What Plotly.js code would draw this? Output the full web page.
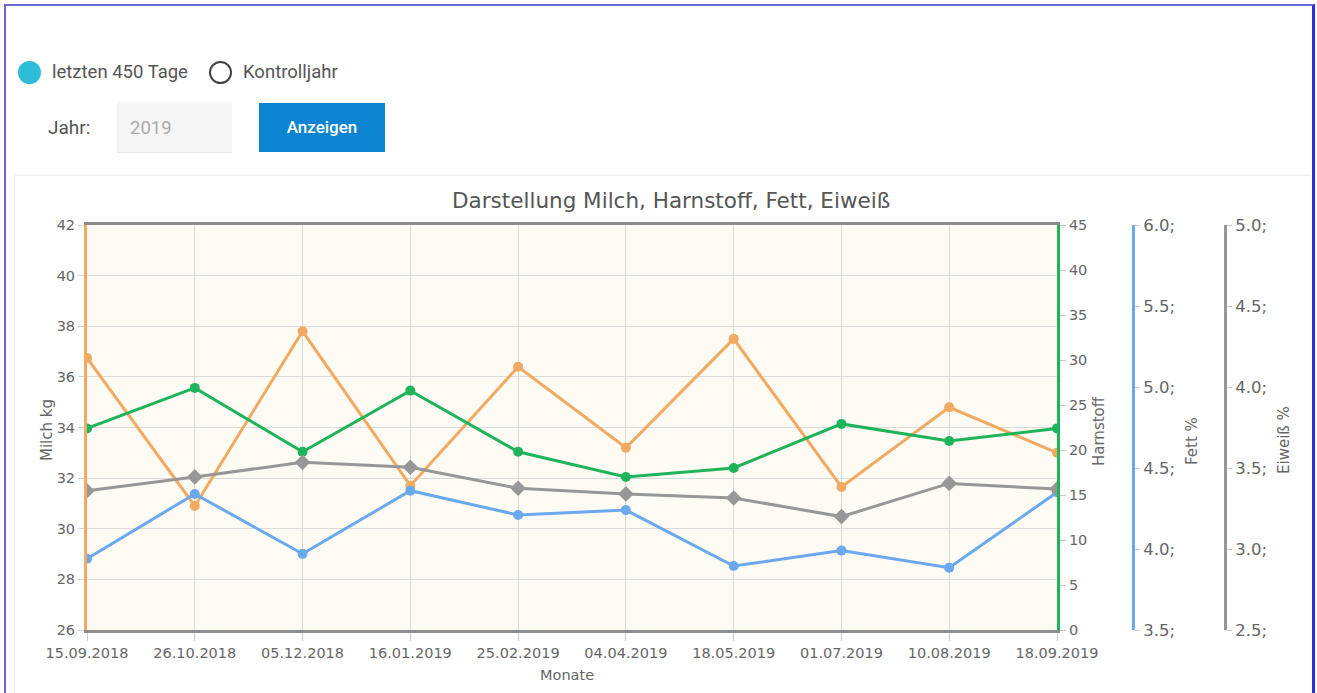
<!DOCTYPE html>
<html>
<head>
<meta charset="utf-8">
<script src="https://cdn.plot.ly/plotly-3.0.1.min.js"></script>
<style>
  html, body { margin:0; padding:0; background:#fff; width:1317px; height:693px; overflow:hidden; font-family: Roboto, "DejaVu Sans", sans-serif; }
  #frame { position:absolute; left:4px; top:4px; width:1306px; height:700px; border-left:2px solid #6a6ad2; border-top:2px solid #6a6ad2; border-right:3px solid #2a2ae0; }
  #panel { position:absolute; left:14px; top:175px; width:1296px; height:540px; border-top:1px solid #ececec; border-left:1px solid #f2f2f2; }
  .radio { position:absolute; width:23px; height:23px; border-radius:50%; box-sizing:border-box; }
  .lbl { position:absolute; font-size:18.5px; color:#555; line-height:22px; white-space:nowrap; }
  #inp { position:absolute; left:117px; top:102px; width:115px; height:51px; background:#f5f5f5; border-bottom:1px solid #e6e6e6; box-sizing:border-box; }
  #btn { position:absolute; left:259px; top:103px; width:126px; height:49px; background:#0d84d1; color:#fff; font-size:17px; font-weight:500; text-align:center; line-height:49px; }
  #chart { position:absolute; left:0; top:0; width:1317px; height:693px; }
</style>
</head>
<body>
<div id="frame"></div>
<div id="panel"></div>
<div class="radio" style="left:18px;top:61px;background:#2dbdd6;"></div>
<div class="lbl" style="left:52px;top:61px;">letzten 450 Tage</div>
<div class="radio" style="left:209px;top:61px;border:2px solid #444;"></div>
<div class="lbl" style="left:243px;top:61px;">Kontrolljahr</div>
<div class="lbl" style="left:48px;top:117px;font-size:19px;">Jahr:</div>
<div id="inp"></div>
<div class="lbl" style="left:130px;top:117px;color:#aaa;">2019</div>
<div id="btn">Anzeigen</div>
<div id="chart"></div>
<script>
// ---- data ----
const dates = ["15.09.2018","26.10.2018","05.12.2018","16.01.2019","25.02.2019","04.04.2019","18.05.2019","01.07.2019","10.08.2019","18.09.2019"];
const milch = [36.75, 30.9, 37.8, 31.7, 36.4, 33.2, 37.5, 31.65, 34.8, 33.0];
const harnstoff = [22.4, 26.9, 19.8, 26.6, 19.8, 17.0, 18.0, 22.9, 21.0, 22.4];
const fett = [3.94, 4.34, 3.97, 4.36, 4.21, 4.24, 3.895, 3.99, 3.885, 4.35];
const eiweiss = [3.36, 3.445, 3.535, 3.505, 3.375, 3.34, 3.315, 3.20, 3.405, 3.37];
const fettTicks = [3.5, 4.0, 4.5, 5.0, 5.5, 6.0];
const fettTickText = ["3.5;", "4.0;", "4.5;", "5.0;", "5.5;", "6.0;"];
const eiweissTicks = [2.5, 3.0, 3.5, 4.0, 4.5, 5.0];
const eiweissTickText = ["2.5;", "3.0;", "3.5;", "4.0;", "4.5;", "5.0;"];
const titleText = "Darstellung Milch, Harnstoff, Fett, Eiweiß";

// ---- styles ----
const cOrange = "#f2a961", cGreen = "#1fb45c", cBlue = "#6aa9ee", cGray = "#979797";
const FF = "DejaVu Sans, sans-serif";
const tickFont = {family: FF, size: 14.5, color: "#666"};
const sideTickFont = {family: FF, size: 16.5, color: "#666"};

const traces = [
  {x: dates, y: milch, yaxis: "y", name: "Milch", mode: "lines+markers",
   line: {color: cOrange, width: 3}, marker: {color: cOrange, size: 10, symbol: "circle"}},
  {x: dates, y: harnstoff, yaxis: "y2", name: "Harnstoff", mode: "lines+markers",
   line: {color: cGreen, width: 3}, marker: {color: cGreen, size: 10}},
  {x: dates, y: eiweiss, yaxis: "y4", name: "Eiweiß", mode: "lines+markers",
   line: {color: cGray, width: 3}, marker: {color: cGray, size: 12, symbol: "diamond"}},
  {x: dates, y: fett, yaxis: "y3", name: "Fett", mode: "lines+markers",
   line: {color: cBlue, width: 3}, marker: {color: cBlue, size: 10}}
];

const W = 1317, H = 693, L = 87, R = 20, T = 225, B = 63;
const pw = W - L - R;
const px = v => (v - L) / pw;
const py = v => (H - B - v) / (H - T - B);

const layout = {
  width: W, height: H,
  margin: {l: L, r: R, t: T, b: B, pad: 0},
  paper_bgcolor: "rgba(0,0,0,0)",
  plot_bgcolor: "#fdfbf3",
  showlegend: false,
  font: {family: FF, color: "#555"},
  xaxis: {type: "category", domain: [0, px(1057)], range: [0, dates.length - 1],
          showgrid: true, gridcolor: "#dadada", gridwidth: 1,
          showline: true, linecolor: "#8c8c8c", linewidth: 3, mirror: true,
          ticks: "outside", ticklen: 8, tickcolor: "#cfcfcf", tickfont: tickFont, zeroline: false},
  yaxis: {range: [26, 42], dtick: 2, tick0: 26, showgrid: true, gridcolor: "#dadada",
          showline: true, linecolor: cOrange, linewidth: 3, ticks: "outside", ticklen: 6, tickcolor: "#d5d5d5",
          tickfont: tickFont, zeroline: false},
  yaxis2: {range: [0, 45], dtick: 5, tick0: 0, overlaying: "y", side: "right", anchor: "x",
           showgrid: false, showline: true, linecolor: cGreen, linewidth: 3, ticks: "outside", ticklen: 6,
           tickcolor: "#c8c8c8", tickfont: tickFont, zeroline: false},
  yaxis3: {range: [3.5, 6.0], overlaying: "y", side: "right", anchor: "free", position: px(1133),
           tickmode: "array", tickvals: fettTicks, ticktext: fettTickText,
           showgrid: false, showline: true, linecolor: cBlue, linewidth: 3, ticks: "outside", ticklen: 5,
           tickcolor: "#c8c8c8", tickfont: sideTickFont, zeroline: false},
  yaxis4: {range: [2.5, 5.0], overlaying: "y", side: "right", anchor: "free", position: px(1225),
           tickmode: "array", tickvals: eiweissTicks, ticktext: eiweissTickText,
           showgrid: false, showline: true, linecolor: cGray, linewidth: 3, ticks: "outside", ticklen: 5,
           tickcolor: "#c8c8c8", tickfont: sideTickFont, zeroline: false},
  annotations: [
    {text: titleText, xref: "paper", yref: "paper", x: px(671), y: py(201), showarrow: false,
     xanchor: "center", yanchor: "middle", font: {family: FF, size: 21.5, color: "#555"}},
    {text: "Milch kg", xref: "paper", yref: "paper", x: px(36), y: py(430), textangle: -90, showarrow: false,
     font: {family: FF, size: 15, color: "#666"}},
    {text: "Harnstoff", xref: "paper", yref: "paper", x: px(1110), y: py(431), textangle: -90, showarrow: false,
     font: {family: FF, size: 15, color: "#666"}},
    {text: "Fett %", xref: "paper", yref: "paper", x: px(1203), y: py(441), textangle: -90, showarrow: false,
     font: {family: FF, size: 15, color: "#666"}},
    {text: "Eiweiß %", xref: "paper", yref: "paper", x: px(1295), y: py(440), textangle: -90, showarrow: false,
     font: {family: FF, size: 15, color: "#666"}},
    {text: "Monate", xref: "paper", yref: "paper", x: px(567), y: py(685), showarrow: false,
     font: {family: FF, size: 14.5, color: "#666"}}
  ]
};

Plotly.newPlot("chart", traces, layout, {staticPlot: true, displayModeBar: false});
</script>
</body>
</html>
